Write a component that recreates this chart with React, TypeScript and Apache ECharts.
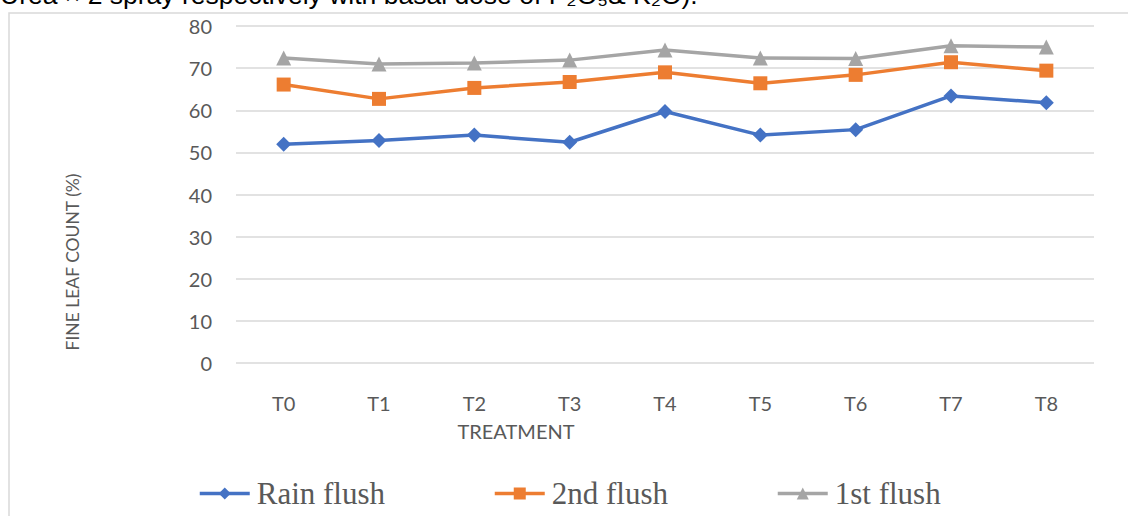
import React, { useEffect, useRef } from "react";
import * as echarts from "echarts";

const categories = ["T0", "T1", "T2", "T3", "T4", "T5", "T6", "T7", "T8"];
const rainFlush = [51.9, 52.8, 54.1, 52.4, 59.7, 54.1, 55.4, 63.4, 61.8];
const secondFlush = [66.1, 62.7, 65.3, 66.7, 69.0, 66.4, 68.4, 71.4, 69.4];
const firstFlush = [72.4, 71.0, 71.2, 71.9, 74.3, 72.4, 72.3, 75.3, 75.0];
const seriesNames = ["Rain flush", "2nd flush", "1st flush"];
const yTicks = { min: 0, max: 80, interval: 10 };

const labelFont = "Lato, 'Open Sans', sans-serif";
const legendFont = "'Liberation Serif', 'Times New Roman', serif";

export default function App() {
  const ref = useRef<HTMLDivElement>(null);
  useEffect(() => {
    if (!ref.current) return;
    const chart = echarts.init(ref.current, null, { renderer: "svg" });
    const mk = (name: string, data: number[], color: string, symbol: string, size: number) => ({
      name,
      type: "line",
      data,
      symbol,
      symbolSize: size,
      showSymbol: true,
      lineStyle: { color, width: 3.5 },
      itemStyle: { color },
      z: 3,
    });
    const legendAt = (name: string, left: number) => ({
      data: [name],
      left,
      top: 473,
      itemWidth: 50,
      itemHeight: 15,
      itemGap: 10,
      textStyle: { fontFamily: legendFont, fontSize: 31, color: "#595959", padding: [0, 0, 0, 2] },
      lineStyle: { width: 3.5 },
    });
    chart.setOption({
      animation: false,
      backgroundColor: "#ffffff",
      grid: { left: 236, right: 34, top: 26, bottom: 153 },
      xAxis: {
        type: "category",
        data: categories,
        boundaryGap: true,
        axisLine: { show: false },
        axisTick: { show: false },
        axisLabel: { color: "#595959", fontSize: 20, fontFamily: labelFont, margin: 30 },
      },
      yAxis: {
        type: "value",
        min: yTicks.min,
        max: yTicks.max,
        interval: yTicks.interval,
        axisLine: { show: false },
        axisTick: { show: false },
        splitLine: { lineStyle: { color: "#D9D9D9", width: 1.5 } },
        axisLabel: { color: "#595959", fontSize: 20, fontFamily: labelFont, margin: 24 },
      },
      legend: [
        legendAt(seriesNames[0], 193),
        legendAt(seriesNames[1], 488),
        legendAt(seriesNames[2], 771),
      ],
      graphic: [
        {
          type: "rect",
          shape: { x: 9, y: 13, width: 1140, height: 520 },
          style: { fill: "none", stroke: "#D9D9D9", lineWidth: 1.5 },
          z: 0,
        },
        {
          type: "text",
          x: 0,
          y: 8,
          style: {
            text: "Urea × 2 spray respectively with basal dose of P₂O₅& K₂O).",
            font: "26.5px 'Liberation Sans', Arial, sans-serif",
            fill: "#000000",
            verticalAlign: "bottom",
          },
        },
        {
          type: "text",
          x: 72,
          y: 262,
          rotation: Math.PI / 2,
          style: {
            text: "FINE LEAF COUNT (%)",
            font: "17.5px " + labelFont,
            fill: "#595959",
            align: "center",
            verticalAlign: "middle",
          },
        },
        {
          type: "text",
          x: 516,
          y: 431,
          style: {
            text: "TREATMENT",
            font: "20px " + labelFont,
            fill: "#595959",
            align: "center",
            verticalAlign: "middle",
          },
        },
      ],
      series: [
        mk(seriesNames[0], rainFlush, "#4472C4", "diamond", 15),
        mk(seriesNames[1], secondFlush, "#ED7D31", "rect", 14),
        mk(seriesNames[2], firstFlush, "#A5A5A5", "triangle", 15),
      ],
    });
    return () => chart.dispose();
  }, []);
  return (
    <div
      ref={ref}
      style={{ position: "absolute", left: 0, top: 0, width: 1128, height: 516 }}
    />
  );
}
